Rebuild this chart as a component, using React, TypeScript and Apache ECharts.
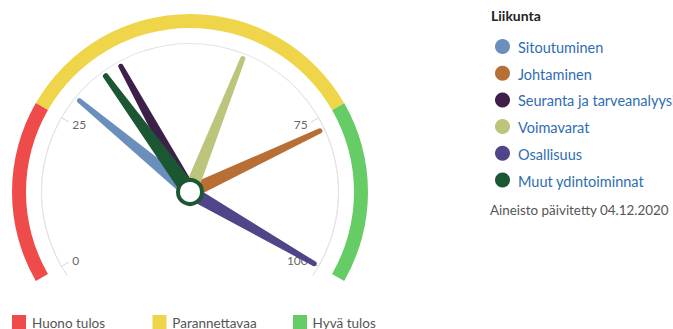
import React, { useEffect, useRef } from "react";
import * as echarts from "echarts";

// Needle data (value on 0-100 scale)
const needleNames = [
  "Sitoutuminen",
  "Johtaminen",
  "Seuranta ja tarveanalyysi",
  "Voimavarat",
  "Osallisuus",
  "Muut ydintoiminnat",
];
const needleValues = [29, 77, 38, 59, 100, 35];
const needleColors = ["#6b8fbd", "#b86f36", "#3d1f4a", "#bdc47b", "#51458a", "#1a5732"];

// Score bands
const bandNames = ["Huono tulos", "Parannettavaa", "Hyvä tulos"];
const bandLimits = [25, 75, 100];
const bandColors = ["#ef4b4b", "#efd54a", "#66cc66"];

// Tick labels shown on the dial
const lowTicks = [0, 25];
const highTicks = [75, 100];

const chartTitle = "Liikunta";
const updatedText = "Aineisto päivitetty 04.12.2020";

const FONT = "Lato, 'Noto Sans', sans-serif";
const CX = 190;
const CY = 192;
const START = 210;
const END = -30;
const angleOf = (v: number) => START - ((START - END) * v) / 100;

const needleIcon = "path://M45,25 A25,25 0 0 1 95,25 L140,1460 L0,1460 Z";

export default function App() {
  const ref = useRef<HTMLDivElement>(null);
  useEffect(() => {
    if (!ref.current) return;
    const chart = echarts.init(ref.current, undefined, { renderer: "svg" });

    const off = {
      pointer: { show: false },
      axisTick: { show: false },
      splitLine: { show: false },
      axisLabel: { show: false },
      detail: { show: false },
      title: { show: false },
      anchor: { show: false },
    };

    const tickGauge = (ticks: number[]) => ({
      type: "gauge",
      center: [CX, CY],
      radius: 149,
      startAngle: angleOf(ticks[0]),
      endAngle: angleOf(ticks[ticks.length - 1]),
      min: ticks[0],
      max: ticks[ticks.length - 1],
      splitNumber: ticks.length - 1,
      ...off,
      axisLine: { show: true, lineStyle: { width: 1, color: [[1, "#e3e3e3"]] } },
      splitLine: { show: true, length: 8, distance: 0, lineStyle: { color: "#d8d8d8", width: 1 } },
      axisLabel: { show: true, distance: 5, color: "#666", fontSize: 12, fontFamily: FONT },
      data: [],
      silent: true,
    });

    const series: any[] = [
      {
        type: "gauge",
        center: [CX, CY],
        radius: 178,
        startAngle: START,
        endAngle: END,
        min: 0,
        max: 100,
        ...off,
        axisLine: {
          show: true,
          lineStyle: {
            width: 14,
            color: bandLimits.map((l, i) => [l / 100, bandColors[i]]),
          },
        },
        data: [],
        silent: true,
      },
      {
        type: "gauge",
        center: [CX, CY],
        radius: 149,
        startAngle: 214.3,
        endAngle: -34.3,
        ...off,
        axisLine: { show: true, lineStyle: { width: 1, color: [[1, "#e3e3e3"]] } },
        data: [],
        silent: true,
      },
      tickGauge(lowTicks),
      tickGauge(highTicks),
      ...needleNames.map((name, i) => ({
        type: "gauge",
        name,
        center: [CX, CY],
        radius: 149,
        startAngle: START,
        endAngle: END,
        min: 0,
        max: 100,
        ...off,
        axisLine: { show: false },
        pointer: {
          show: true,
          icon: needleIcon,
          length: 146,
          width: i === needleNames.length - 1 ? 16 : 14,
          itemStyle: { color: needleColors[i] },
        },
        itemStyle: { color: needleColors[i] },
        anchor:
          i === needleNames.length - 1
            ? {
                show: true,
                showAbove: true,
                size: 24,
                itemStyle: { color: "#fff", borderColor: needleColors[i], borderWidth: 4 },
              }
            : { show: false },
        data: [{ value: needleValues[i], name }],
      })),
    ];

    const graphic: any[] = [
      {
        type: "text",
        left: 491,
        top: 8,
        style: { text: chartTitle, fill: "#222", font: `bold 14px ${FONT}` },
      },
      ...needleNames.flatMap((name, i) => [
        {
          type: "circle",
          shape: { cx: 502.5, cy: 46.5 + i * 26.7, r: 7.5 },
          style: { fill: needleColors[i] },
        },
        {
          type: "text",
          x: 518,
          y: 47.5 + i * 26.7,
          style: {
            text: name,
            fill: "#2e6db4",
            font: `14.5px ${FONT}`,
            verticalAlign: "middle",
          },
        },
      ]),
      {
        type: "text",
        x: 490,
        y: 209.5,
        style: { text: updatedText, fill: "#555", font: `13.4px ${FONT}`, verticalAlign: "middle" },
      },
      ...bandNames.flatMap((name, i) => [
        {
          type: "rect",
          shape: { x: 12 + i * 140.5, y: 315, width: 14, height: 14 },
          style: { fill: bandColors[i] },
        },
        {
          type: "text",
          x: 32 + i * 140.3,
          y: 322.5,
          style: { text: name, fill: "#555", font: `13.5px ${FONT}`, verticalAlign: "middle" },
        },
      ]),
    ];

    chart.setOption({
      animation: false,
      backgroundColor: "#fff",
      series,
      graphic,
    });
    return () => chart.dispose();
  }, []);

  return (
    <div
      ref={ref}
      style={{ position: "fixed", left: 0, top: 0, width: 673, height: 329 }}
    />
  );
}
